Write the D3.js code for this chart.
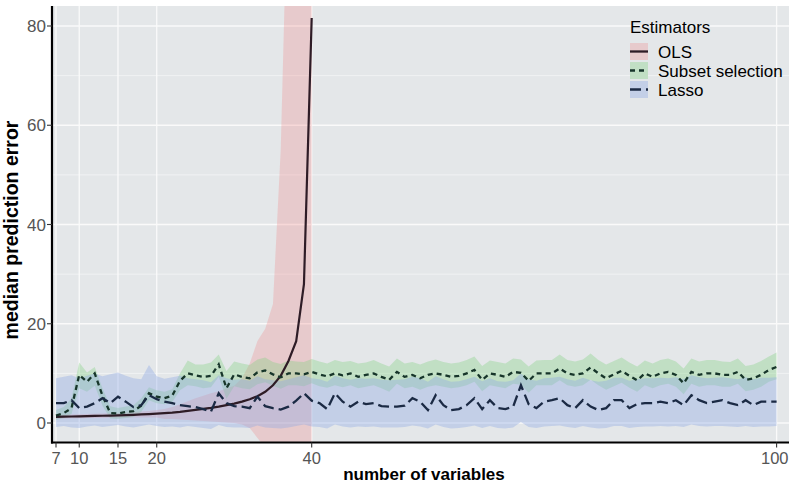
<!DOCTYPE html>
<html><head><meta charset="utf-8">
<script src="https://cdn.jsdelivr.net/npm/d3@7"></script>
<style>body{margin:0;background:#fff}svg{display:block}text{font-family:"Liberation Sans",Arial,sans-serif}</style>
</head><body>
<svg id="c" width="789" height="487"></svg>
<script>
// ---------- DATA ----------
const nVars = d3.range(7, 101);           // number of variables 7..100
const olsVars = d3.range(7, 41);          // OLS only defined for 7..40

const olsMedian = [1.25,1.28,1.31,1.35,1.38,1.42,1.46,1.5,1.55,1.6,1.65,1.72,1.8,1.9,2.0,2.1,2.25,2.45,2.65,2.85,3.05,3.3,3.6,3.9,4.3,4.8,5.4,6.3,7.6,9.5,12.5,16.5,28,81.6];
const olsLower  = [0.9,0.9,0.95,0.95,1.0,1.0,1.0,1.05,1.05,1.1,1.1,1.1,1.1,1.1,0.8,0.8,0.7,0.6,0.5,0.4,0.3,0.2,0.1,0,-0.3,-1,-3,-5,-8,-15,-30,-60,-120,-300];
const olsUpper  = [1.6,1.65,1.7,1.75,1.8,1.85,1.9,1.95,2.0,2.1,2.2,2.3,2.4,2.6,2.8,3.2,3.8,4.4,5.0,5.5,6.0,6.4,7.0,7.5,9.0,12,16.5,19,24,55,115,200,400,900];

const subsetMedian = [1.5,2.0,3.0,9.7,8.3,10.0,5.5,2.0,1.9,2.2,2.4,3.5,6.0,5.3,5.0,5.5,8.5,10.0,9.6,
  9.3,9.5,11.8,7.0,9.8,9.3,9.0,10.2,10.6,9.8,9.2,10.0,10.0,9.8,10.3,9.8,9.4,10.0,9.6,
  10.0,9.3,9.7,10.0,9.3,8.7,10.3,9.3,9.7,9.0,9.7,10.0,9.7,9.3,9.5,10.0,10.7,8.7,10.0,
  9.7,9.3,10.3,10.1,8.5,10.0,10.0,10.0,11.0,10.0,9.7,10.0,11.2,10.0,9.0,9.8,10.5,9.5,8.6,
  10.0,9.3,10.0,10.3,9.7,8.0,10.3,9.7,10.0,10.0,9.7,9.7,10.3,8.7,9.0,9.7,10.7,11.3];
const subsetUpper = [2.6,3.2,5.0,12.2,10.2,11.3,7.0,3.4,3.0,3.3,3.6,5.0,7.2,6.6,6.3,6.8,10.0,12.6,11.8,
  11.8,12.2,13.8,10.5,12.4,12.0,11.7,12.8,13.2,12.3,11.9,12.6,12.4,12.3,12.9,12.4,12.0,12.7,12.3,
  12.5,12.0,12.2,12.7,12.0,11.4,13.0,12.0,12.3,11.8,12.4,12.8,12.3,12.0,12.2,12.7,13.4,11.5,12.6,
  12.3,12.0,13.0,12.8,11.4,12.6,12.7,12.7,13.8,12.7,12.4,12.8,14.0,12.7,11.8,12.5,13.2,12.2,11.4,
  12.6,12.0,12.7,13.0,12.4,11.0,13.0,12.4,12.7,12.7,12.4,12.3,13.0,11.5,11.8,12.5,13.4,14.2];
const subsetLower = [0.6,1.0,1.8,7.0,6.3,7.5,3.5,0.9,0.8,1.0,1.2,2.2,4.6,4.0,3.8,4.2,6.6,7.6,7.4,
  7.0,7.2,9.3,4.9,7.4,7.0,6.8,7.8,8.2,7.5,6.9,7.6,7.6,7.4,8.0,7.4,7.1,7.6,7.2,
  7.6,7.0,7.3,7.6,7.0,6.3,7.9,7.0,7.3,6.7,7.3,7.6,7.3,7.0,7.2,7.6,8.3,6.4,7.6,
  7.3,7.0,7.9,7.7,6.1,7.6,7.6,7.6,8.6,7.6,7.3,7.6,8.7,7.6,6.7,7.4,8.1,7.1,6.3,
  7.6,7.0,7.6,7.9,7.3,5.8,7.9,7.3,7.6,7.6,7.3,7.3,7.9,6.4,6.7,7.3,8.3,8.8];

const lassoMedian = [4.0,4.0,4.6,3.0,3.3,4.0,5.0,4.0,5.3,4.3,3.2,3.6,5.6,4.8,4.3,4.0,3.6,3.4,3.2,
  2.8,2.3,6.0,4.0,3.4,3.3,3.0,5.3,3.4,3.0,2.7,3.3,4.5,6.0,4.5,4.0,2.8,6.0,4.3,
  3.3,4.3,3.8,4.0,3.4,3.3,3.3,3.5,5.0,4.3,2.6,5.6,3.6,2.6,2.8,3.6,5.0,2.8,4.6,
  3.0,2.8,3.3,7.6,3.8,3.0,4.3,4.6,5.0,3.6,3.0,4.6,3.3,2.6,3.0,4.6,4.6,3.0,3.8,
  4.0,4.0,4.3,4.0,4.6,3.6,5.6,4.6,4.0,4.3,4.6,4.0,3.6,4.6,3.6,4.3,4.3,4.3];
const lassoUpper = [9.0,9.3,9.6,9.0,9.5,10.0,9.4,9.8,10.2,9.5,9.0,8.8,11.7,9.4,8.9,9.2,9.5,9.0,8.8,
  8.6,8.2,9.6,9.0,8.7,8.8,8.5,9.4,8.8,8.6,8.4,8.8,9.2,9.6,9.0,8.8,8.3,9.5,9.0,
  8.7,9.0,8.9,9.0,8.7,8.6,8.7,8.8,9.3,9.0,8.3,9.4,8.8,8.3,8.4,8.8,9.3,8.4,9.0,
  8.4,8.3,8.6,10.0,8.8,8.5,9.0,9.1,9.3,8.8,8.5,9.1,8.6,8.3,8.5,9.1,9.1,8.5,8.8,
  9.0,9.0,9.1,9.0,9.2,8.8,9.6,9.2,9.0,9.1,9.2,9.0,8.8,9.2,8.8,9.1,9.1,9.2];
const lassoLower = [-0.8,-0.6,-0.9,-1.0,-0.7,-0.5,-0.8,-0.6,-0.4,-0.7,-0.9,-0.6,-0.3,-0.6,-0.8,-0.7,-0.9,-0.6,-0.8,
  -1.0,-1.2,-0.4,-0.8,-0.9,-0.9,-1.0,-0.5,-0.9,-1.0,-1.1,-0.9,-0.6,-0.3,-0.7,-0.8,-1.1,-0.3,-0.7,
  -0.9,-0.7,-0.8,-0.7,-0.9,-0.9,-0.9,-0.8,-0.5,-0.7,-1.1,-0.3,-0.8,-1.1,-1.0,-0.8,-0.5,-1.0,-0.6,
  -1.0,-1.1,-0.9,0.2,-0.8,-1.0,-0.7,-0.6,-0.5,-0.8,-1.0,-0.6,-0.9,-1.1,-1.0,-0.6,-0.6,-1.0,-0.8,
  -0.7,-0.7,-0.6,-0.7,-0.6,-0.8,-0.3,-0.6,-0.7,-0.6,-0.6,-0.7,-0.8,-0.6,-0.8,-0.7,-0.7,-0.6];

const xTicks = [7, 10, 15, 20, 40, 100];
const yTicks = [0, 20, 40, 60, 80];
const yMinor = [10, 30, 50, 70];
const legendTitle = "Estimators";
const seriesNames = ["OLS", "Subset selection", "Lasso"];

// ---------- STYLE ----------
const panelBg = "#e4e7e9";
const fills = ["#f08080", "#7fd17f", "#8fa8e6"];
const fillOp = [0.28, 0.34, 0.38];
const lineCols = ["#2e1c26", "#17352a", "#1b2a44"];
const dashes = [null, "5,4", "11,5"];

const svg = d3.select("#c");
const W = 789;
const P = {left: 52, top: 6, right: 789, bottom: 442.5};
const x = d3.scaleLinear().domain([7, 100]).range([56, 776.6]);
const y = d3.scaleLinear().domain([0, 80]).range([423, 26]);

svg.append("defs").append("clipPath").attr("id", "clip")
  .append("rect").attr("x", P.left).attr("y", P.top).attr("width", P.right - P.left).attr("height", P.bottom - P.top);

svg.append("rect").attr("x", P.left).attr("y", P.top).attr("width", P.right - P.left).attr("height", P.bottom - P.top).attr("fill", panelBg);

const grid = svg.append("g");
grid.selectAll(".hm").data(yMinor).join("line").attr("x1", P.left).attr("x2", P.right)
  .attr("y1", d => y(d)).attr("y2", d => y(d)).attr("stroke", "#f4f5f6").attr("stroke-width", 0.8);
grid.selectAll(".hM").data(yTicks).join("line").attr("x1", P.left).attr("x2", P.right)
  .attr("y1", d => y(d)).attr("y2", d => y(d)).attr("stroke", "#fafafa").attr("stroke-width", 1.3);
grid.selectAll(".vM").data(xTicks).join("line").attr("y1", P.top).attr("y2", P.bottom)
  .attr("x1", d => x(d)).attr("x2", d => x(d)).attr("stroke", "#fafafa").attr("stroke-width", 1.3);

const plot = svg.append("g").attr("clip-path", "url(#clip)");

const area = (xs, lo, hi) => d3.area().x((d, i) => x(xs[i])).y0((d, i) => y(lo[i])).y1((d, i) => y(hi[i]))(xs);
const line = (xs, v) => d3.line().x((d, i) => x(xs[i])).y((d, i) => y(v[i]))(xs);

plot.append("path").attr("d", area(olsVars, olsLower, olsUpper)).attr("fill", fills[0]).attr("fill-opacity", fillOp[0]);
plot.append("path").attr("d", area(nVars, subsetLower, subsetUpper)).attr("fill", fills[1]).attr("fill-opacity", fillOp[1]);
plot.append("path").attr("d", area(nVars, lassoLower, lassoUpper)).attr("fill", fills[2]).attr("fill-opacity", fillOp[2]);

plot.append("path").attr("d", line(olsVars, olsMedian)).attr("fill", "none").attr("stroke", lineCols[0]).attr("stroke-width", 2.2);
plot.append("path").attr("d", line(nVars, subsetMedian)).attr("fill", "none").attr("stroke", lineCols[1]).attr("stroke-width", 2.3).attr("stroke-dasharray", dashes[1]);
plot.append("path").attr("d", line(nVars, lassoMedian)).attr("fill", "none").attr("stroke", lineCols[2]).attr("stroke-width", 2.3).attr("stroke-dasharray", dashes[2]);

// axes
svg.append("line").attr("x1", P.left).attr("x2", P.left).attr("y1", P.top).attr("y2", P.bottom + 1).attr("stroke", "#000").attr("stroke-width", 2.2);
svg.append("line").attr("x1", P.left - 1).attr("x2", P.right).attr("y1", P.bottom).attr("y2", P.bottom).attr("stroke", "#000").attr("stroke-width", 2.2);

const yAx = svg.append("g");
yAx.selectAll("line").data(yTicks).join("line").attr("x1", P.left - 5).attr("x2", P.left).attr("y1", d => y(d)).attr("y2", d => y(d)).attr("stroke", "#333").attr("stroke-width", 1.1);
yAx.selectAll("text").data(yTicks).join("text").attr("x", P.left - 6).attr("y", d => y(d) + 6)
  .attr("text-anchor", "end").attr("font-size", 17).attr("fill", "#555").text(d => d);

const xAx = svg.append("g");
xAx.selectAll("line").data(xTicks).join("line").attr("y1", P.bottom).attr("y2", P.bottom + 5).attr("x1", d => x(d)).attr("x2", d => x(d)).attr("stroke", "#333").attr("stroke-width", 1.1);
xAx.selectAll("text").data(xTicks).join("text").attr("x", d => x(d)).attr("y", 464)
  .attr("text-anchor", "middle").attr("font-size", 16.5).attr("fill", "#555").text(d => d)
  .each(function() {
    const b = this.getBBox();
    if (b.x + b.width > W - 0.5) d3.select(this).attr("text-anchor", "end").attr("x", W - 0.5);
  });

svg.append("text").attr("transform", "translate(18,230) rotate(-90)").attr("text-anchor", "middle")
  .attr("font-size", 19.5).attr("font-weight", "bold").attr("fill", "#000").text("median prediction error");
svg.append("text").attr("x", 424).attr("y", 480).attr("text-anchor", "middle")
  .attr("font-size", 17).attr("font-weight", "bold").attr("fill", "#000").text("number of variables");

// legend
const lg = svg.append("g");
lg.append("text").attr("x", 630).attr("y", 33).attr("font-size", 17).attr("fill", "#000").text(legendTitle);
seriesNames.forEach((name, i) => {
  const ky = 43 + i * 19;
  lg.append("rect").attr("x", 630).attr("y", ky).attr("width", 18).attr("height", 17).attr("fill", panelBg);
  lg.append("rect").attr("x", 630).attr("y", ky).attr("width", 18).attr("height", 17).attr("fill", fills[i]).attr("fill-opacity", fillOp[i]);
  lg.append("line").attr("x1", 630).attr("x2", 648).attr("y1", ky + 8.5).attr("y2", ky + 8.5)
    .attr("stroke", lineCols[i]).attr("stroke-width", 2.3).attr("stroke-dasharray", dashes[i]);
  lg.append("text").attr("x", 658).attr("y", ky + 14.5).attr("font-size", 17).attr("fill", "#000").text(name);
});
</script>
</body></html>
